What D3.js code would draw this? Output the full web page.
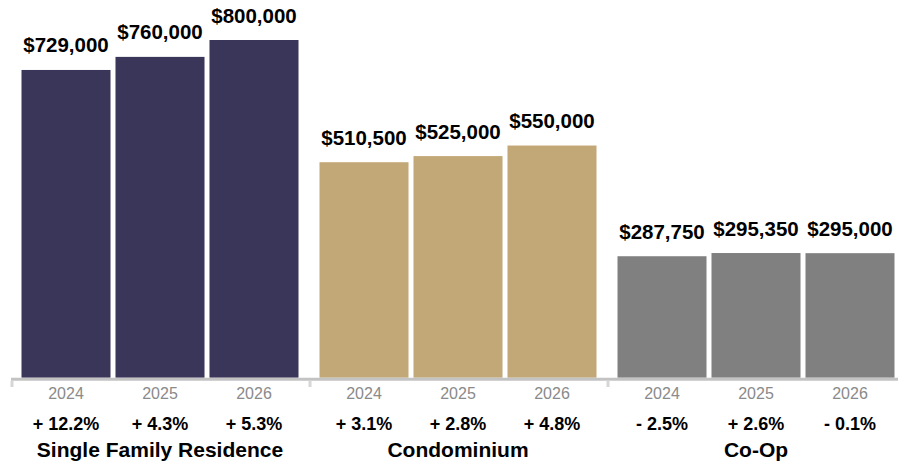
<!DOCTYPE html>
<html>
<head>
<meta charset="utf-8">
<script src="https://cdn.jsdelivr.net/npm/d3@7"></script>
<style>
  html, body { margin: 0; padding: 0; background: #fff; }
  svg { display: block; }
  text { font-family: "Liberation Sans", Arial, Helvetica, sans-serif; }
</style>
</head>
<body>
<svg id="chart" width="898" height="465"></svg>
<script>
const categories = ["Single Family Residence", "Condominium", "Co-Op"];
const years = ["2024", "2025", "2026"];
const sfrValues = [729000, 760000, 800000];
const condoValues = [510500, 525000, 550000];
const coopValues = [287750, 295350, 295000];
const sfrChanges = ["+ 12.2%", "+ 4.3%", "+ 5.3%"];
const condoChanges = ["+ 3.1%", "+ 2.8%", "+ 4.8%"];
const coopChanges = ["- 2.5%", "+ 2.6%", "- 0.1%"];
const colors = ["#3a3659", "#c2a877", "#808080"];

const seriesValues = [sfrValues, condoValues, coopValues];
const seriesChanges = [sfrChanges, condoChanges, coopChanges];

const svg = d3.select("#chart");
const baseline = 377.7;

const x0 = d3.scaleBand().domain(categories).range([11, 905]).paddingInner(0).paddingOuter(0);
const x1 = d3.scaleBand().domain(years).range([10.5, 287.5]).paddingInner(0.053).paddingOuter(0);
const y = d3.scaleLinear().domain([0, 800000]).range([baseline, 40]);

const fmt = v => "$" + d3.format(",")(v);

const groups = svg.selectAll("g.grp")
  .data(categories.map((c, i) => ({
    cat: c, color: colors[i],
    bars: years.map((yr, j) => ({ year: yr, value: seriesValues[i][j], change: seriesChanges[i][j] }))
  })))
  .enter().append("g")
  .attr("class", "grp")
  .attr("transform", d => `translate(${x0(d.cat)},0)`);

groups.selectAll("rect")
  .data(d => d.bars.map(b => Object.assign({ color: d.color }, b)))
  .enter().append("rect")
  .attr("x", d => x1(d.year))
  .attr("width", x1.bandwidth())
  .attr("y", d => y(d.value))
  .attr("height", d => baseline - y(d.value))
  .attr("fill", d => d.color);

groups.selectAll("text.val")
  .data(d => d.bars)
  .enter().append("text")
  .attr("class", "val")
  .attr("x", d => x1(d.year) + x1.bandwidth() / 2)
  .attr("y", d => y(d.value) - 17.5)
  .attr("text-anchor", "middle")
  .attr("font-size", "20.5px")
  .attr("font-weight", "bold")
  .attr("fill", "#000")
  .text(d => fmt(d.value));

groups.selectAll("text.yr")
  .data(d => d.bars)
  .enter().append("text")
  .attr("class", "yr")
  .attr("x", d => x1(d.year) + x1.bandwidth() / 2)
  .attr("y", 399)
  .attr("text-anchor", "middle")
  .attr("font-size", "16px")
  .attr("fill", "#8a8a8a")
  .text(d => d.year);

groups.selectAll("text.chg")
  .data(d => d.bars)
  .enter().append("text")
  .attr("class", "chg")
  .attr("x", d => x1(d.year) + x1.bandwidth() / 2)
  .attr("y", 430)
  .attr("text-anchor", "middle")
  .attr("font-size", "18px")
  .attr("font-weight", "bold")
  .attr("fill", "#000")
  .text(d => d.change);

groups.append("text")
  .attr("x", x0.bandwidth() / 2)
  .attr("y", 457)
  .attr("text-anchor", "middle")
  .attr("font-size", "21px")
  .attr("font-weight", "bold")
  .attr("fill", "#000")
  .text(d => d.cat);

// axis
svg.append("line")
  .attr("x1", x0.range()[0]).attr("x2", 898)
  .attr("y1", 379.3).attr("y2", 379.3)
  .attr("stroke", "#c3c3c3").attr("stroke-width", 3);

svg.selectAll("line.tick")
  .data(categories)
  .enter().append("line")
  .attr("class", "tick")
  .attr("x1", d => x0(d) + 1).attr("x2", d => x0(d) + 1)
  .attr("y1", 380.8).attr("y2", 387)
  .attr("stroke", "#d6d6d6").attr("stroke-width", 3);
</script>
</body>
</html>
